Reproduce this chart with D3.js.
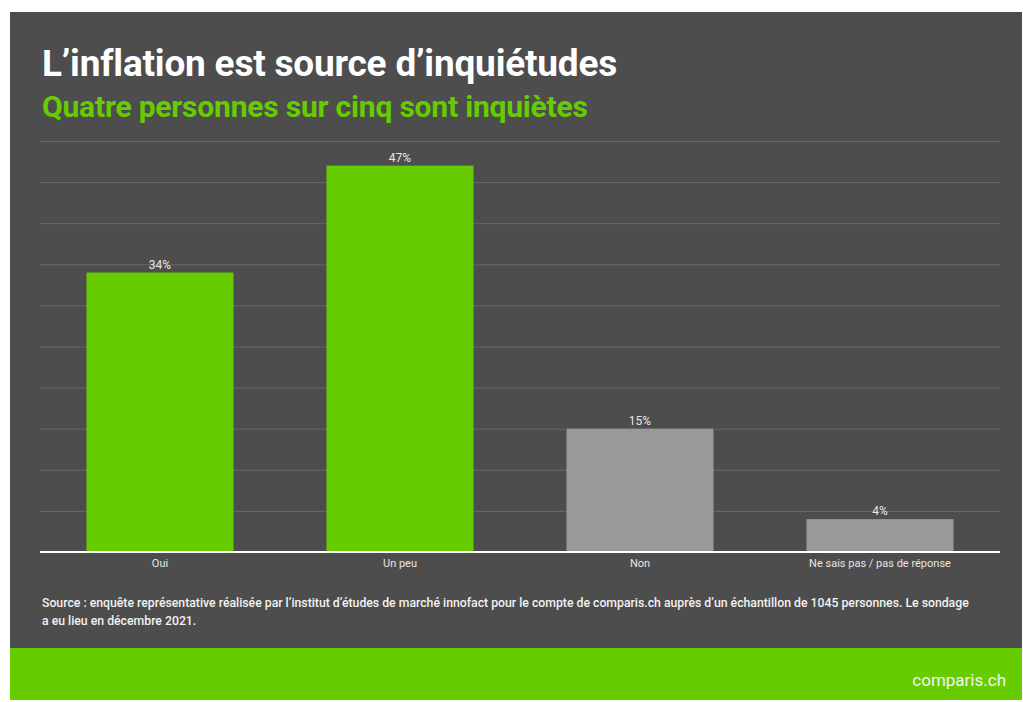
<!DOCTYPE html>
<html lang="fr">
<head>
<meta charset="utf-8">
<title>L’inflation est source d’inquiétudes</title>
<script src="https://d3js.org/d3.v7.min.js"></script>
<style>
  body { margin: 0; background: #fff; }
  text { font-family: Roboto, "Noto Sans", sans-serif; }
  .grid line { stroke: #686868; stroke-width: 1; }
  .grid path { display: none; }
  .xaxis path, .xaxis line { display: none; }
  .xaxis text { fill: #e6e6e6; font-size: 11px; }
</style>
</head>
<body>
<script>
const categories = ["Oui", "Un peu", "Non", "Ne sais pas / pas de réponse"];
const values = [34, 47, 15, 4];
const barColors = ["#66cc00", "#66cc00", "#999999", "#999999"];
const yTicks = [0, 5, 10, 15, 20, 25, 30, 35, 40, 45, 50];

const width = 1023, height = 702;
const plotLeft = 40, plotRight = 1000, plotTop = 141, plotBottom = 552;

const svg = d3.select("body").append("svg")
  .attr("width", width)
  .attr("height", height);

// background panel + footer
svg.append("rect").attr("x", 10).attr("y", 12).attr("width", 1012).attr("height", 636).attr("fill", "#4d4d4d");
svg.append("rect").attr("x", 10).attr("y", 648).attr("width", 1012).attr("height", 52).attr("fill", "#66cc00");

svg.append("text").attr("x", 42).attr("y", 76)
  .attr("fill", "#fff").attr("font-size", 37).attr("font-weight", 700)
  .attr("letter-spacing", -0.2)
  .text("L’inflation est source d’inquiétudes");

svg.append("text").attr("x", 42).attr("y", 117)
  .attr("fill", "#66cc00").attr("font-size", 30).attr("font-weight", 700)
  .attr("letter-spacing", -0.2)
  .text("Quatre personnes sur cinq sont inquiètes");

const x = d3.scaleBand()
  .domain(categories)
  .range([plotLeft, plotRight])
  .paddingInner(0.3875)
  .paddingOuter(0.19375);

const y = d3.scaleLinear()
  .domain([0, 50])
  .range([plotBottom, plotTop]);

svg.append("g")
  .attr("class", "grid")
  .attr("transform", "translate(" + plotLeft + ",0)")
  .call(d3.axisLeft(y).tickValues(yTicks.slice(1)).tickSize(-(plotRight - plotLeft)).tickFormat(""));

svg.selectAll("rect.bar")
  .data(values)
  .enter()
  .append("rect")
  .attr("class", "bar")
  .attr("x", (d, i) => x(categories[i]))
  .attr("y", d => y(d))
  .attr("width", x.bandwidth())
  .attr("height", d => plotBottom - y(d))
  .attr("fill", (d, i) => barColors[i]);

svg.selectAll("text.val")
  .data(values)
  .enter()
  .append("text")
  .attr("class", "val")
  .attr("x", (d, i) => x(categories[i]) + x.bandwidth() / 2)
  .attr("y", d => y(d) - 4)
  .attr("text-anchor", "middle")
  .attr("fill", "#e6e6e6")
  .attr("font-size", 12)
  .text(d => d + "%");

// baseline
svg.append("line")
  .attr("x1", plotLeft).attr("x2", plotRight)
  .attr("y1", y(0)).attr("y2", y(0))
  .attr("stroke", "#fff").attr("stroke-width", 2);

svg.append("g")
  .attr("class", "xaxis")
  .attr("transform", "translate(0," + (plotBottom + 1) + ")")
  .call(d3.axisBottom(x).tickSize(0).tickPadding(6));

svg.append("text").attr("x", 42).attr("y", 607)
  .attr("fill", "#f2f2f2").attr("font-size", 12.25).attr("font-weight", 500)
  .text("Source : enquête représentative réalisée par l’institut d’études de marché innofact pour le compte de comparis.ch auprès d’un échantillon de 1045 personnes. Le sondage");
svg.append("text").attr("x", 42).attr("y", 625)
  .attr("fill", "#f2f2f2").attr("font-size", 12.25).attr("font-weight", 500)
  .text("a eu lieu en décembre 2021.");

svg.append("text").attr("x", 1006).attr("y", 686)
  .attr("text-anchor", "end")
  .attr("fill", "#f2f2f2").attr("font-size", 17)
  .text("comparis.ch");
</script>
</body>
</html>
